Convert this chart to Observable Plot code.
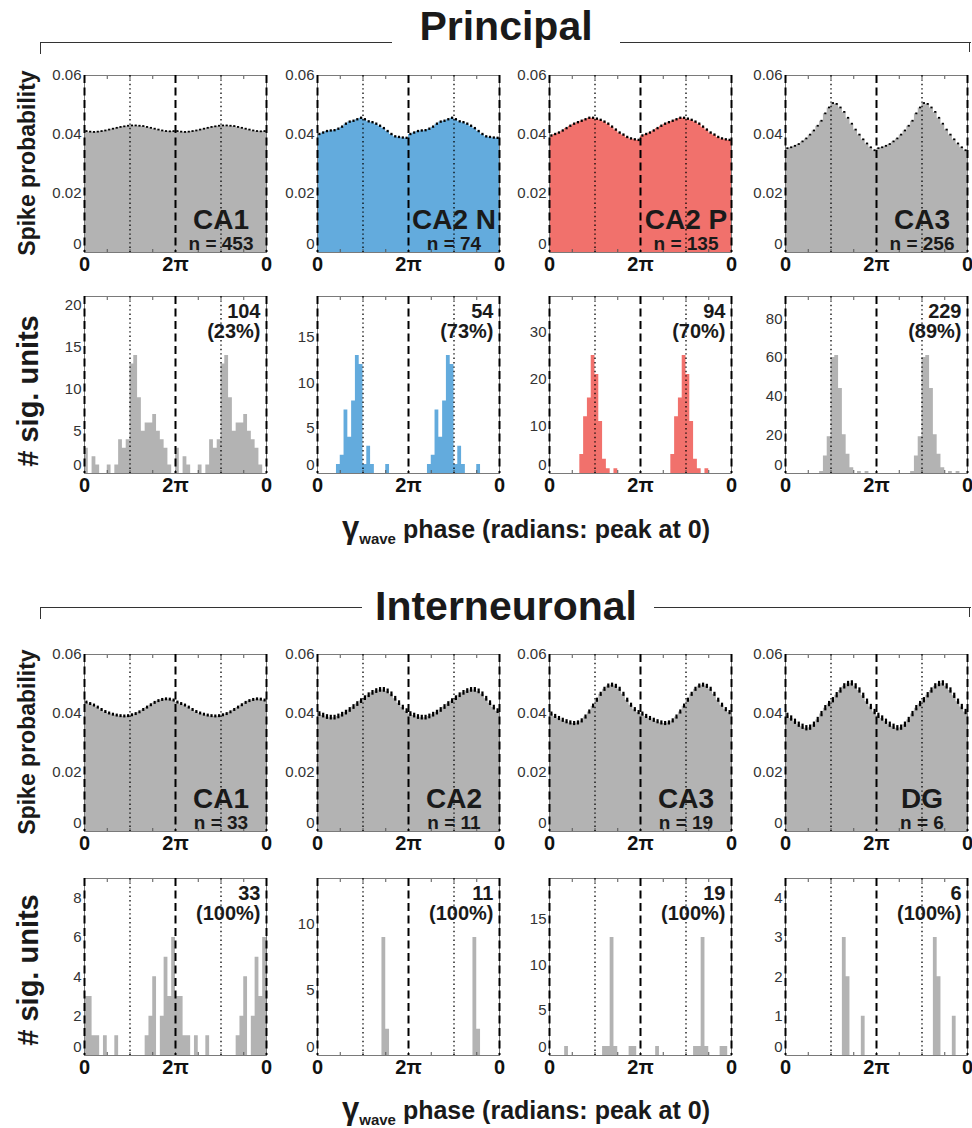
<!DOCTYPE html>
<html><head><meta charset="utf-8">
<script src="https://cdn.jsdelivr.net/npm/d3@7"></script>
<script src="https://cdn.jsdelivr.net/npm/@observablehq/plot@0.6"></script>
<style>
body{margin:0;background:#fff;font-family:"Liberation Sans",Arial,Helvetica,sans-serif;}
#fig{position:relative;width:972px;height:1128px;overflow:hidden;background:#fff;}
.abs{position:absolute;line-height:1;white-space:nowrap;color:#1a1a1a;font-weight:bold;}
.title{font-size:41px;transform:translateX(-50%);}
.ylab{transform:translate(-50%,-50%) rotate(-90deg);}
.xlab{font-size:25px;transform:translateX(-50%);}
.hl{position:absolute;height:0;border-top:1.5px solid #333;}
.vl{position:absolute;width:0;border-left:1.5px solid #333;}
</style></head>
<body><div id="fig"></div>
<script>
// ---------------- data ----------------
const principalRegions = ["CA1", "CA2 N", "CA2 P", "CA3"];
const principalN = [453, 74, 135, 256];
const principalSig = [104, 54, 94, 229];
const principalPct = [23, 73, 70, 89];
const interRegions = ["CA1", "CA2", "CA3", "DG"];
const interN = [33, 11, 19, 6];
const interSig = [33, 11, 19, 6];
const interPct = [100, 100, 100, 100];

// spike probability per phase bin (24 bins per gamma cycle)
const probP_CA1 = [0.0410,0.0408,0.0407,0.0408,0.0410,0.0412,0.0415,0.0418,0.0421,0.0424,0.0426,0.0428,0.0429,0.0429,0.0428,0.0427,0.0424,0.0421,0.0418,0.0415,0.0412,0.0410,0.0409,0.0410];
const probP_CA2N = [0.0400,0.0405,0.0410,0.0412,0.0413,0.0418,0.0425,0.0435,0.0442,0.0445,0.0450,0.0455,0.0450,0.0443,0.0440,0.0435,0.0428,0.0420,0.0410,0.0400,0.0392,0.0390,0.0388,0.0387];
const probP_CA2P = [0.0395,0.0400,0.0405,0.0412,0.0420,0.0428,0.0435,0.0440,0.0445,0.0450,0.0455,0.0455,0.0452,0.0448,0.0442,0.0435,0.0425,0.0415,0.0405,0.0398,0.0390,0.0385,0.0382,0.0380];
const probP_CA3 = [0.0352,0.0355,0.0360,0.0366,0.0375,0.0385,0.0398,0.0412,0.0428,0.0445,0.0470,0.0490,0.0505,0.0502,0.0490,0.0475,0.0455,0.0435,0.0415,0.0398,0.0382,0.0368,0.0355,0.0345];
const probI_CA1 = [0.0437,0.0432,0.0427,0.0420,0.0412,0.0405,0.0400,0.0396,0.0393,0.0391,0.0390,0.0391,0.0394,0.0398,0.0404,0.0412,0.0420,0.0428,0.0436,0.0442,0.0446,0.0448,0.0447,0.0444];
const probI_CA2 = [0.0398,0.0393,0.0388,0.0386,0.0386,0.0390,0.0396,0.0403,0.0412,0.0422,0.0432,0.0442,0.0452,0.0462,0.0470,0.0476,0.0480,0.0480,0.0475,0.0465,0.0450,0.0435,0.0420,0.0408];
const probI_CA3 = [0.0398,0.0390,0.0383,0.0377,0.0372,0.0368,0.0366,0.0368,0.0375,0.0388,0.0405,0.0425,0.0445,0.0465,0.0482,0.0493,0.0496,0.0492,0.0482,0.0465,0.0445,0.0428,0.0413,0.0403];
const probI_DG = [0.0392,0.0383,0.0372,0.0362,0.0355,0.0350,0.0352,0.0362,0.0378,0.0398,0.0418,0.0432,0.0445,0.0462,0.0478,0.0492,0.0500,0.0502,0.0492,0.0478,0.0460,0.0440,0.0422,0.0405];
const semP = [0.0003, 0.0004, 0.0004, 0.0003];
const semI = [0.0005, 0.0008, 0.0007, 0.0009];

// preferred-phase histograms: number of significant units per bin (24 bins per cycle)
const histP_CA1 = [3,0,2,1,0,0,1,0,1,4,3,4,13,14,9,5,6,6,7,5,4,3,1,0];
const histP_CA2N = [0,0,0,0,0,1,2,7,4,8,13,12,1,3,1,0,0,0,1,0,0,0,0,0];
const histP_CA2P = [0,0,0,0,0,0,0,0,4,12,16,25,21,11,3,1,0,1,0,0,0,0,0,0];
const histP_CA3 = [0,0,0,0,0,0,0,0,0,1,9,19,60,61,44,20,10,3,0,1,0,1,0,0];
const histI_CA1 = [3,3,1,1,0,1,0,0,1,0,0,0,0,0,0,0,1,2,4,0,2,5,3,6];
const histI_CA2 = [0,0,0,0,0,0,0,0,0,0,0,0,0,0,0,0,0,9,2,0,0,0,0,0];
const histI_CA3 = [0,0,0,0,1,0,0,0,0,0,0,0,0,0,1,1,13,1,0,0,0,1,1,0];
const histI_DG = [0,0,0,0,0,0,0,0,0,0,0,0,0,0,0,3,2,0,0,0,1,0,0,0];

const xTickLabels = ["0", "2π", "0"];
const probTicks = [0, 0.02, 0.04, 0.06];
const histTicksP = [[0,5,10,15,20],[0,5,10,15],[0,10,20,30],[0,20,40,60,80]];
const histTicksI = [[0,2,4,6,8],[0,5,10],[0,5,10,15],[0,1,2,3,4]];
const principalColors = ["#b3b3b3", "#63abdd", "#f1716c", "#b3b3b3"];
const interColors = ["#b3b3b3", "#b3b3b3", "#b3b3b3", "#b3b3b3"];

// ---------------- layout ----------------
const TAU = 2 * Math.PI;
const colLeft = [84, 317, 549, 785];
const rowTop = [75, 296, 654, 878];
const frameW = 182, frameH = 177;
const mL = 44, mR = 8, mT = 8, mB = 32;
const font = '"Liberation Sans", Arial, Helvetica, sans-serif';
const fig = document.getElementById("fig");

// two identical cycles (0..2π and 2π..4π) of the binned values
function cycles(values) {
  const w = TAU / values.length;
  return [0, 1].flatMap(c => values.map((v, i) => ({x1: c * TAU + i * w, x2: c * TAU + (i + 1) * w, xc: c * TAU + (i + 0.5) * w, v})));
}
// step outline: left edge of each bin plus the closing right edge of the last bin
function stepPoints(rows) {
  const last = rows[rows.length - 1];
  return [...rows.map(d => ({x: d.x1, v: d.v})), {x: last.x2, v: last.v}];
}

const majorPhases = [0, TAU, 2 * TAU];
const dottedPhases = [Math.PI, 3 * Math.PI];
const minorPhases = d3.range(0, 9).map(k => k * Math.PI / 2);

function panel(left, top, yDomain, yTicks, yFormat, dataMarks, textMarks) {
  const chart = Plot.plot({
    width: frameW + mL + mR, height: frameH + mT + mB,
    marginLeft: mL, marginRight: mR, marginTop: mT, marginBottom: mB,
    x: {domain: [0, 2 * TAU]},
    y: {domain: yDomain},
    style: {background: "transparent", fontFamily: font, overflow: "visible", color: "#111"},
    marks: [
      ...dataMarks,
      Plot.frame({stroke: "#7a7a7a", strokeWidth: 1}),
      Plot.axisX(minorPhases, {anchor: "top", tickSize: -3, tickFormat: () => "", stroke: "#555", label: null}),
      Plot.axisX(minorPhases, {anchor: "bottom", tickSize: -3, tickFormat: () => "", stroke: "#555", label: null}),
      Plot.axisX(majorPhases, {anchor: "bottom", tickSize: 0, tickPadding: 4, fontSize: 20, fontWeight: "bold", fill: "#111",
        tickFormat: d => xTickLabels[Math.round(d / TAU)], label: null}),
      Plot.axisY(yTicks.filter(t => t !== 0), {tickSize: 0, tickPadding: 3, fontSize: 15, fill: "#333", tickFormat: yFormat, label: null}),
      Plot.axisY(yTicks.filter(t => t === 0), {tickSize: 0, tickPadding: 3, dy: -8, fontSize: 15, fill: "#333", tickFormat: yFormat, label: null}),
      Plot.ruleX(dottedPhases, {stroke: "#000", strokeWidth: 1.3, strokeDasharray: "1.4,3"}),
      Plot.ruleX(majorPhases, {stroke: "#000", strokeWidth: 2, strokeDasharray: "8,4.5"}),
      ...textMarks
    ]
  });
  chart.style.position = "absolute";
  chart.style.left = (left - mL) + "px";
  chart.style.top = (top - mT) + "px";
  fig.appendChild(chart);
}

function probPanel(col, row, values, color, sem, region, n) {
  const rows = cycles(values);
  panel(colLeft[col], rowTop[row], [0, 0.06], probTicks, d => d === 0 ? "0" : d.toFixed(2), [
    Plot.areaY(stepPoints(rows), {x: "x", y: "v", fill: color, curve: "step-after"}),
    Plot.ruleX(rows, {x: "xc", y1: d => d.v - sem, y2: d => d.v + sem, stroke: "#000", strokeWidth: 2.2})
  ], [
    Plot.text([region], {frameAnchor: "bottom", dx: frameW / 4, dy: -24 - 0.71 * 28, lineAnchor: "top", textAnchor: "middle",
      text: d => d, fontSize: 28, fontWeight: "bold", fill: "#1a1a1a"}),
    Plot.text([`n = ${n}`], {frameAnchor: "bottom", dx: frameW / 4, dy: -3 - 0.71 * 19, lineAnchor: "top", textAnchor: "middle",
      text: d => d, fontSize: 19, fontWeight: "bold", fill: "#1a1a1a"})
  ]);
}

function histPanel(col, row, values, color, ticks, sig, pct) {
  const rows = cycles(values);
  const ymax = 1.5 * d3.max(values);
  panel(colLeft[col], rowTop[row], [0, ymax], ticks, d => String(d), [
    Plot.areaY(stepPoints(rows), {x: "x", y: "v", fill: color, curve: "step-after"})
  ], [
    Plot.text([`${sig}\n(${pct}%)`], {frameAnchor: "top-right", dx: -6, dy: 7, lineAnchor: "top", textAnchor: "end",
      lineHeight: 1.02, text: d => d, fontSize: 20, fontWeight: "bold", fill: "#1a1a1a"})
  ]);
}

const probP = [probP_CA1, probP_CA2N, probP_CA2P, probP_CA3];
const probI = [probI_CA1, probI_CA2, probI_CA3, probI_DG];
const histP = [histP_CA1, histP_CA2N, histP_CA2P, histP_CA3];
const histI = [histI_CA1, histI_CA2, histI_CA3, histI_DG];

for (let c = 0; c < 4; c++) {
  probPanel(c, 0, probP[c], principalColors[c], semP[c], principalRegions[c], principalN[c]);
  histPanel(c, 1, histP[c], principalColors[c], histTicksP[c], principalSig[c], principalPct[c]);
  probPanel(c, 2, probI[c], interColors[c], semI[c], interRegions[c], interN[c]);
  histPanel(c, 3, histI[c], interColors[c], histTicksI[c], interSig[c], interPct[c]);
}

// ---------------- titles and labels ----------------
function addDiv(cls, html, styles) {
  const d = document.createElement("div");
  d.className = cls;
  d.innerHTML = html;
  Object.assign(d.style, styles);
  fig.appendChild(d);
  return d;
}
// section titles (baseline ≈ top + 0.8465 em)
addDiv("abs title", "Principal", {left: "506px", top: (41 - 0.8465 * 41) + "px"});
addDiv("abs title", "Interneuronal", {left: "506px", top: (621 - 0.8465 * 41) + "px"});
// brackets
addDiv("hl", "", {left: "40px", top: "42px", width: "352px"});
addDiv("vl", "", {left: "40px", top: "42px", height: "12px"});
addDiv("hl", "", {left: "620px", top: "42px", width: "351px"});
addDiv("vl", "", {left: "969px", top: "42px", height: "10px"});
addDiv("hl", "", {left: "40px", top: "607px", width: "322px"});
addDiv("vl", "", {left: "40px", top: "607px", height: "12px"});
addDiv("hl", "", {left: "654px", top: "607px", width: "317px"});
addDiv("vl", "", {left: "969px", top: "607px", height: "10px"});

// y-axis labels
const yl = [["Spike probability", 23, 27, 163], ["# sig. units", 29, 28, 391], ["Spike probability", 23, 27, 742], ["# sig. units", 29, 28, 970]];
for (const [t, fs, x, y] of yl) addDiv("abs ylab", t, {left: x + "px", top: y + "px", fontSize: fs + "px"});

// x-axis titles
const xt = '<span style="font-size:31px">γ</span><span style="font-size:15px;position:relative;top:6px">wave</span> phase (radians: peak at 0)';
addDiv("abs xlab", xt, {left: "526px", top: (533 - 0.8465 * 25) + "px"});
addDiv("abs xlab", xt, {left: "526px", top: (1114 - 0.8465 * 25) + "px"});
</script>
</body></html>
